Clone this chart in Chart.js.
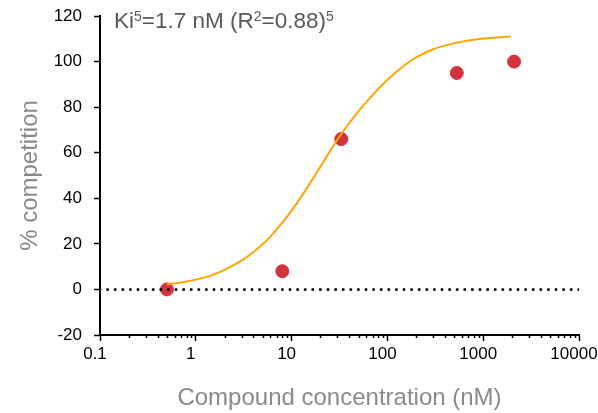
<!DOCTYPE html>
<html>
<head>
<meta charset="utf-8">
<script src="https://cdn.jsdelivr.net/npm/chart.js@4"></script>
<style>
  body { margin: 0; background: #fff; }
  #wrap { position: relative; width: 598px; height: 413px; }
  #fit-label {
    position: absolute; left: 114px; top: 8px;
    font: 22.5px "Liberation Sans", Arial, sans-serif; color: #595959;
    white-space: nowrap; line-height: 26px;
  }
  #fit-label sup { font-size: 14px; vertical-align: 7px; line-height: 0; }
</style>
</head>
<body>
<div id="wrap">
  <canvas id="chart" width="598" height="413"></canvas>
  <div id="fit-label">Ki<sup>5</sup>=1.7 nM (R<sup>2</sup>=0.88)<sup>5</sup></div>
</div>
<script>
// Measured competition (%) vs compound concentration (nM)
const concentrations = [0.5, 8, 33, 530, 2100];
const competition = [0, 8, 66, 95, 100];

// Fitted dose-response curve
const fitConc = [0.5, 0.7, 1, 1.5, 2, 3, 4, 5, 6, 8, 10, 13, 16, 20, 25, 30, 40, 50, 70,
                 100, 150, 200, 300, 500, 700, 1000, 1500, 1950];
const fitValues = [2.2, 3.0, 4.3, 6.4, 8.6, 12.6, 16.4, 19.9, 23.2, 29.3, 34.6, 41.5, 47.4, 53.9, 60.4, 65.7, 73.0, 78.3, 85.3,
                   92.0, 98.3, 101.8, 105.4, 108.0, 109.2, 110.1, 110.7, 111.0];

// Zero baseline
const baselineX = [0.1, 10000];
const baselineY = [0, 0];

const xTicks = [0.1, 1, 10, 100, 1000, 10000];
const yMin = -20, yMax = 120, yStep = 20;

const fontFamily = '"Liberation Sans", Arial, sans-serif';

// short minor ticks under the log axis
const minorTicks = {
  id: 'minorTicks',
  afterDraw(chart) {
    const xs = chart.scales.x;
    const ctx = chart.ctx;
    ctx.save();
    ctx.strokeStyle = '#000';
    ctx.lineWidth = 1.5;
    ctx.beginPath();
    for (let i = 0; i < xTicks.length - 1; i++) {
      for (let m = 2; m <= 9; m++) {
        const px = Math.round(xs.getPixelForValue(xTicks[i] * m)) + 0.5;
        ctx.moveTo(px, xs.top);
        ctx.lineTo(px, xs.top + 3);
      }
    }
    ctx.stroke();
    ctx.restore();
  }
};

new Chart(document.getElementById('chart'), {
  type: 'scatter',
  data: {
    datasets: [
      {
        type: 'line',
        data: baselineX.map((x, i) => ({ x, y: baselineY[i] })),
        borderColor: '#000',
        borderWidth: 3,
        borderDash: [0, 7.6],
        borderCapStyle: 'round',
        pointRadius: 0,
        fill: false
      },
      {
        type: 'line',
        data: fitConc.map((x, i) => ({ x, y: fitValues[i] })),
        borderColor: '#FFA500',
        borderWidth: 2,
        cubicInterpolationMode: 'monotone',
        pointRadius: 0,
        fill: false
      },
      {
        data: concentrations.map((x, i) => ({ x, y: competition[i] })),
        backgroundColor: '#D1343E',
        borderColor: '#D1343E',
        pointRadius: 6.5,
        pointHoverRadius: 6.5
      }
    ]
  },
  options: {
    responsive: false,
    animation: false,
    layout: { padding: { top: 16, right: 19, left: 0, bottom: 0 } },
    plugins: {
      legend: { display: false },
      tooltip: { enabled: false }
    },
    scales: {
      x: {
        type: 'logarithmic',
        min: 0.1,
        max: 10000,
        afterBuildTicks(scale) {
          scale.ticks = xTicks.map(v => ({ value: v }));
        },
        afterFit(scale) {
          scale.height = 78;
          scale.paddingLeft = 0;
          scale.paddingRight = 0;
        },
        ticks: {
          autoSkip: false,
          maxRotation: 0,
          padding: 3,
          labelOffset: -5,
          color: '#000',
          font: { family: fontFamily, size: 17 },
          callback: v => String(v)
        },
        grid: {
          drawOnChartArea: false,
          tickLength: 6,
          tickWidth: 1.5,
          tickColor: '#000'
        },
        border: { color: '#000', width: 2 },
        title: {
          display: true,
          text: 'Compound concentration (nM)',
          color: '#8a8a8a',
          font: { family: fontFamily, size: 24 },
          padding: { top: 6, bottom: 0 }
        }
      },
      y: {
        min: yMin,
        max: yMax,
        afterFit(scale) {
          scale.width = 100;
          scale.paddingTop = 0;
          scale.paddingBottom = 0;
        },
        ticks: {
          stepSize: yStep,
          padding: 12,
          color: '#000',
          font: { family: fontFamily, size: 17 }
        },
        grid: {
          drawOnChartArea: false,
          tickLength: 6,
          tickWidth: 1.5,
          tickColor: '#000'
        },
        border: { color: '#000', width: 2 },
        title: {
          display: true,
          text: '% competition',
          color: '#8a8a8a',
          font: { family: fontFamily, size: 24 },
          padding: { top: 16, bottom: 0 }
        }
      }
    }
  },
  plugins: [minorTicks]
});
</script>
</body>
</html>
